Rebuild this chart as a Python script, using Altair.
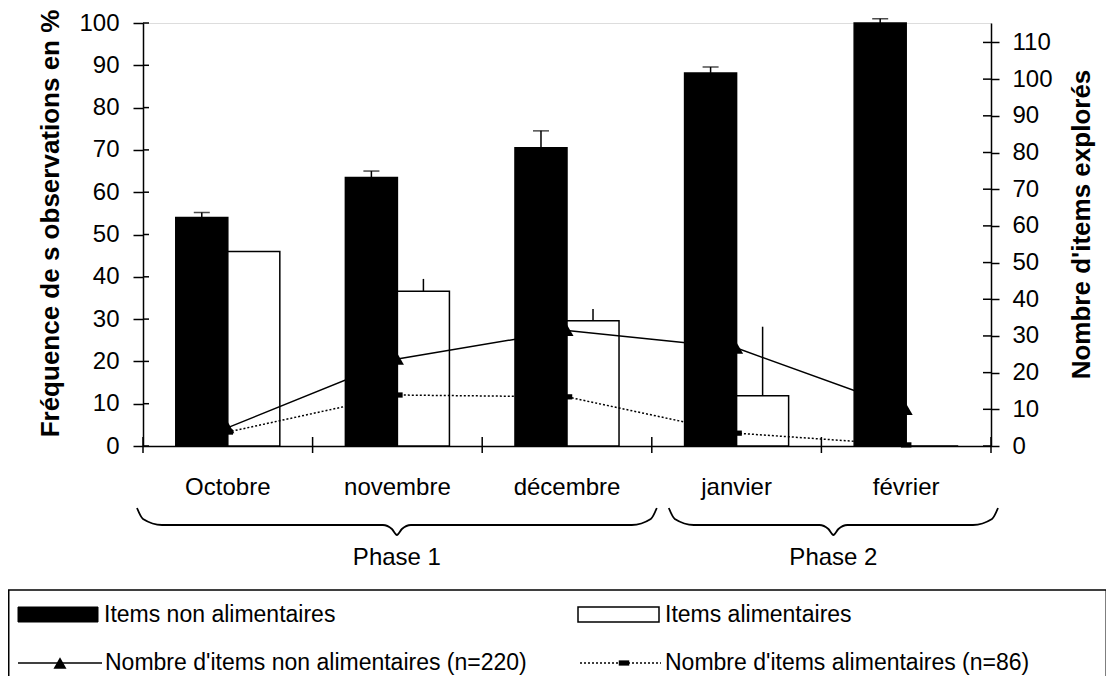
import altair as alt
import pandas as pd

# ---------------- data ----------------
months = ["Octobre", "novembre", "décembre", "janvier", "février"]
series = ["Items non alimentaires", "Items alimentaires"]
freq_non_alim = [54.0, 63.5, 70.5, 88.2, 100.0]
err_non_alim = [1.2, 1.5, 4.0, 1.4, 1.0]
freq_alim = [46.0, 36.6, 29.6, 11.9, 0.0]
err_alim = [0.0, 2.9, 2.8, 16.3, 0.0]
n_non_alim = [5.0, 23.7, 31.5, 26.7, 10.0]
n_alim = [3.8, 13.9, 13.4, 3.5, 0.3]
left_ticks = list(range(0, 101, 10))
right_ticks = list(range(0, 111, 10))
right_max = 115.3
phases = ["Phase 1", "Phase 2"]
phase_months = [["Octobre", "novembre", "décembre"], ["janvier", "février"]]
line_labels = ["Nombre d'items non alimentaires (n=220)", "Nombre d'items alimentaires (n=86)"]

# ---------------- tables ----------------
bar_rows = []
for m, v, e in zip(months, freq_non_alim, err_non_alim):
    bar_rows.append({"month": m, "series": series[0], "value": v, "top": v + e})
for m, v, e in zip(months, freq_alim, err_alim):
    bar_rows.append({"month": m, "series": series[1], "value": v, "top": v + e})
bar_df = pd.DataFrame(bar_rows)
line_df = pd.DataFrame({"month": months, "n_non": n_non_alim, "n_alim": n_alim})
lt_df = pd.DataFrame({"t": left_ticks})
rt_df = pd.DataFrame({"t": right_ticks})

W, H = 848, 423
FONT = "Liberation Sans"
step = W / len(months)

# braces (annotation geometry built from category indices)
brace_rows = []
label_rows = []
for i, (ph, pm) in enumerate(zip(phases, phase_months)):
    s = months.index(pm[0])
    e = months.index(pm[-1]) + 1
    a = s * step + (-6 if i == 0 else 17)
    b = e * step + (5 if i == 0 else 7)
    m = (a + b) / 2
    pts = [(a, 62), (a + 6, 73), (a + 25, 79), (m - 14, 79), (m - 5, 83), (m, 89),
           (m + 5, 83), (m + 14, 79), (b - 25, 79), (b - 6, 73), (b, 62)]
    for k, (px, py) in enumerate(pts):
        brace_rows.append({"phase": ph, "k": k, "px": px, "py": py})
    label_rows.append({"phase": ph, "px": m, "py": 112})
brace_df = pd.DataFrame(brace_rows)
plabel_df = pd.DataFrame(label_rows)

# ---------------- axes ----------------
xaxis = alt.Axis(title=None, ticks=False, tickSize=0, labelPadding=29, labelFontSize=24,
                 labelAngle=0, domainWidth=1.5, domainColor="black", labelColor="black", labelFont=FONT)
left_axis = alt.Axis(values=left_ticks, tickSize=10, tickWidth=1.5, tickColor="black",
                     labelPadding=14, labelFontSize=24, labelFont=FONT, labelColor="black",
                     domainWidth=1.5, domainColor="black", grid=False,
                     title="Fréquence de s observations en %", titleFont=FONT, titleFontSize=26,
                     titleFontWeight="bold", titleColor="black", titleAngle=270,
                     titleX=-93, titleY=200, titleAlign="center", titleBaseline="middle")
right_axis = alt.Axis(orient="right", values=right_ticks, tickSize=8, tickWidth=1.5, tickColor="black",
                      labelPadding=13, labelFontSize=24, labelFont=FONT, labelColor="black",
                      domainWidth=1.5, domainColor="black", grid=False,
                      title="Nombre d'items explorés", titleFont=FONT, titleFontSize=26,
                      titleFontWeight="bold", titleColor="black", titleAngle=270,
                      titleX=90, titleY=201, titleAlign="center", titleBaseline="middle")

xs = alt.Scale(paddingInner=0, paddingOuter=0)
X = alt.X("month:N", sort=months, scale=xs, axis=xaxis)
XO = alt.XOffset("series:N", sort=series, scale=alt.Scale(paddingInner=0, paddingOuter=0.63))
lscale = alt.Scale(domain=[0, 100], nice=False, zero=True)
rscale = alt.Scale(domain=[0, right_max], nice=False, zero=True)

bars = alt.Chart(bar_df).mark_bar(stroke="black", strokeWidth=1.5).encode(
    x=X, xOffset=XO,
    y=alt.Y("value:Q", scale=lscale, axis=left_axis),
    fill=alt.Fill("series:N", sort=series, scale=alt.Scale(domain=series, range=["#000000", "#ffffff"]), legend=None),
)
errs = alt.Chart(bar_df).mark_rule(color="black", strokeWidth=1.5).encode(
    x=X, xOffset=XO,
    y=alt.Y("value:Q", scale=lscale, axis=left_axis),
    y2="top:Q",
)
caps = alt.Chart(bar_df).transform_filter(alt.datum.series == series[0]).mark_tick(
    color="black", thickness=1.5, size=16, orient="horizontal").encode(
    x=X, xOffset=XO,
    y=alt.Y("top:Q", scale=lscale, axis=left_axis),
)
xticks = alt.Chart(line_df).mark_rule(color="black", strokeWidth=1.5).encode(
    x=alt.X("month:N", sort=months, scale=xs, axis=xaxis, bandPosition=0),
    y=alt.value(H - 9), y2=alt.value(H + 7),
)
xtick_end = alt.Chart(line_df).transform_filter(alt.datum.month == months[-1]).mark_rule(
    color="black", strokeWidth=1.5).encode(
    x=alt.X("month:N", sort=months, scale=xs, axis=xaxis, bandPosition=1),
    y=alt.value(H - 9), y2=alt.value(H + 7),
)
lticks_in = alt.Chart(lt_df).mark_rule(color="black", strokeWidth=1.5).encode(
    y=alt.Y("t:Q", scale=lscale, axis=left_axis), x=alt.value(0), x2=alt.value(6))

left_layer = alt.layer(bars, errs, caps, xticks, xtick_end, lticks_in)

tri_line = alt.Chart(line_df).mark_line(color="black", strokeWidth=1.5).encode(
    x=X, y=alt.Y("n_non:Q", scale=rscale, axis=right_axis))
tri_pts = alt.Chart(line_df).mark_point(shape="triangle-up", filled=True, color="black", size=170, opacity=1).encode(
    x=X, y=alt.Y("n_non:Q", scale=rscale, axis=right_axis))
sq_line = alt.Chart(line_df).mark_line(color="black", strokeWidth=1.5, strokeDash=[2, 2]).encode(
    x=X, y=alt.Y("n_alim:Q", scale=rscale, axis=right_axis))
sq_pts = alt.Chart(line_df).mark_point(shape="M-1,-0.5H1V0.5H-1Z", filled=True, color="black", size=110, opacity=1).encode(
    x=X, y=alt.Y("n_alim:Q", scale=rscale, axis=right_axis))
rticks_in = alt.Chart(rt_df).mark_rule(color="black", strokeWidth=1.5).encode(
    y=alt.Y("t:Q", scale=rscale, axis=right_axis), x=alt.value(W - 8), x2=alt.value(W))

right_layer = alt.layer(tri_line, sq_line, tri_pts, sq_pts, rticks_in)

main = alt.layer(left_layer, right_layer).resolve_scale(y="independent")

# ---------------- decorations: braces, phases, legend ----------------
pxs = alt.Scale(domain=[0, W], range=[0, W])
pys = alt.Scale(domain=[0, 200], range=[H, H + 200])
braces = alt.Chart(brace_df).mark_line(color="black", strokeWidth=1.8, interpolate="monotone").encode(
    x=alt.X("px:Q", scale=pxs, axis=None),
    y=alt.Y("py:Q", scale=pys, axis=None),
    detail="phase:N", order="k:Q",
)
plabels = alt.Chart(plabel_df).mark_text(fontSize=24, font=FONT, color="black", baseline="middle").encode(
    x=alt.X("px:Q", scale=pxs, axis=None),
    y=alt.Y("py:Q", scale=pys, axis=None),
    text="phase:N",
)

one = alt.Data(values=[{"a": 1}])
box = alt.Chart(one).mark_rect(fillOpacity=0, stroke="black", strokeWidth=1.5).encode(
    x=alt.value(-134.25), x2=alt.value(963.25), y=alt.value(567), y2=alt.value(720))
sw1 = alt.Chart(one).mark_rect(fill="black", stroke="black", strokeWidth=1).encode(
    x=alt.value(-125), x2=alt.value(-45), y=alt.value(584), y2=alt.value(599))
sw2 = alt.Chart(one).mark_rect(fill="white", stroke="black", strokeWidth=1.5).encode(
    x=alt.value(435), x2=alt.value(516), y=alt.value(584), y2=alt.value(599))
t1 = alt.Chart(one).mark_text(text=series[0], fontSize=23, font=FONT, align="left", baseline="middle", color="black").encode(
    x=alt.value(-39), y=alt.value(592))
t2 = alt.Chart(one).mark_text(text=series[1], fontSize=23, font=FONT, align="left", baseline="middle", color="black").encode(
    x=alt.value(522), y=alt.value(592))
l1 = alt.Chart(one).mark_rule(color="black", strokeWidth=1.5).encode(
    x=alt.value(-125), x2=alt.value(-41), y=alt.value(640))
p1 = alt.Chart(one).mark_point(shape="triangle-up", filled=True, color="black", size=170, opacity=1).encode(
    x=alt.value(-83), y=alt.value(640))
l2 = alt.Chart(one).mark_rule(color="black", strokeWidth=1.5, strokeDash=[2, 2]).encode(
    x=alt.value(437), x2=alt.value(518), y=alt.value(640))
p2 = alt.Chart(one).mark_point(shape="M-1,-0.5H1V0.5H-1Z", filled=True, color="black", size=110, opacity=1).encode(
    x=alt.value(481), y=alt.value(640))
t3 = alt.Chart(one).mark_text(text=line_labels[0], fontSize=23, font=FONT, align="left", baseline="middle", color="black").encode(
    x=alt.value(-38), y=alt.value(640))
t4 = alt.Chart(one).mark_text(text=line_labels[1], fontSize=23, font=FONT, align="left", baseline="middle", color="black").encode(
    x=alt.value(522), y=alt.value(640))

deco = alt.layer(braces, plabels, box, sw1, sw2, t1, t2, l1, p1, l2, p2, t3, t4)

chart = alt.layer(main, deco).resolve_scale(x="independent", y="independent").properties(
    width=W, height=H,
    autosize=alt.AutoSizeParams(type="none"),
    padding={"left": 135, "top": 15, "right": 115, "bottom": 230},
).configure_view(stroke=None).configure(font=FONT)

chart.save("out.html", embed_options={"renderer": "svg", "actions": False})
